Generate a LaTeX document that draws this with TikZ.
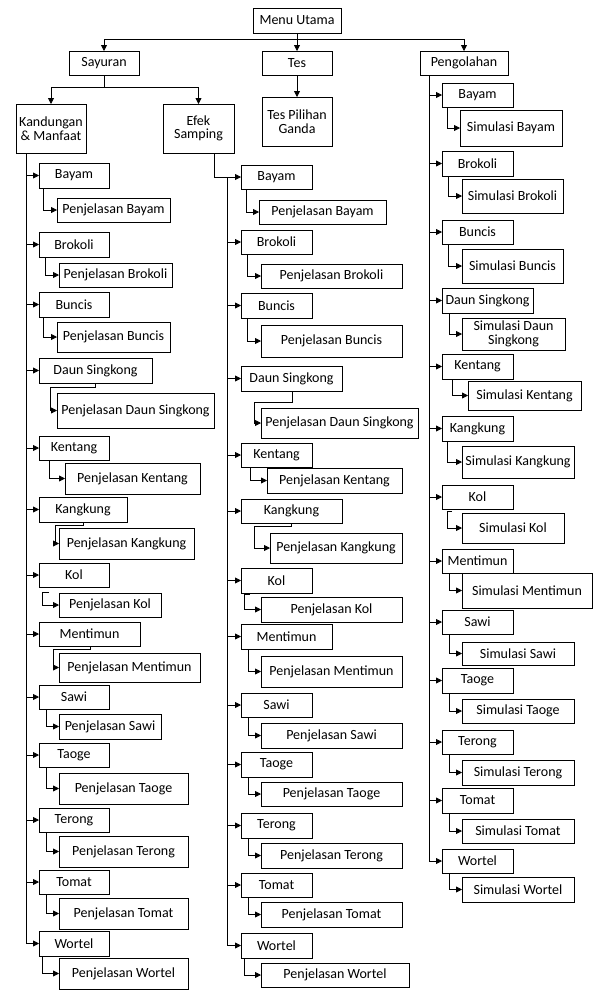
\documentclass[tikz,border=0pt]{standalone}
\usepackage{fontspec}
\setmainfont{Carlito}
\usetikzlibrary{arrows.meta}
\tikzset{
  box/.style={draw,line width=0.8pt,inner sep=1pt,outer sep=0pt,align=center,
    font=\fontsize{14}{13.5}\selectfont},
  arr/.style={line width=0.8pt,-{Triangle[length=6pt,width=6pt]}},
  ln/.style={line width=0.8pt}
}
\newcommand\bx[6]{\node[box,minimum width={#4pt-#2pt},minimum height={#5pt-#3pt}] (#1) at ({(#2+#4)/2},{-(#3+#5)/2}) {#6};}
\newcommand\elb[3]{\draw[arr] ([xshift=#3pt]#1.south west) |- (#2.west);}
\newcommand\tr[2]{\draw[arr] (#2.west -| #1) -- (#2.west);}
\newcommand\zel[5]{\draw[arr] ([xshift=#3pt]#1.south west) -- ++(0,-#4) -- ++(-#5,0) |- (#2.west);}
\newcommand\fel[5]{\draw[arr] ([xshift=#3pt,yshift=-#4pt]#1.south west) -- ++(-#5,0) |- (#2.west);}
\begin{document}
\begin{tikzpicture}[x=1pt,y=1pt]
\useasboundingbox (0,0) rectangle (597,-994);
% top
\bx{mu}{253}{8}{341}{33}{Menu Utama}
\bx{say}{69}{51}{139}{75}{Sayuran}
\bx{tes}{262}{51}{332}{75}{Tes}
\bx{peng}{420}{51}{508}{75}{Pengolahan}
\bx{kand}{16}{104}{86}{153}{Kandungan\\\& Manfaat}
\bx{efek}{163}{104}{234}{153}{Efek\\Samping}
\bx{tpg}{262}{97}{332}{146}{Tes Pilihan\\Ganda}
\draw[ln] (mu.south) -- ++(0,-6) coordinate (hb);
\draw[ln] (hb -| say.north) -- (hb -| peng.north);
\draw[arr] (hb -| say.north) -- (say.north);
\draw[arr] (hb) -- (tes.north);
\draw[arr] (hb -| peng.north) -- (peng.north);
\draw[ln] (say.south) -- ++(0,-12) coordinate (sb);
\draw[ln] (sb -| kand.north) -- (sb -| efek.north);
\draw[arr] (sb -| kand.north) -- (kand.north);
\draw[arr] (sb -| efek.north) -- (efek.north);
\draw[arr] (tes.south) -- (tpg.north);
% column 1
\bx{a1}{39}{163}{109}{188}{Bayam}
\bx{ap1}{57}{198}{170}{222}{Penjelasan Bayam}
\bx{a2}{39}{232}{109}{257}{Brokoli}
\bx{ap2}{59}{263}{172}{287}{Penjelasan Brokoli}
\bx{a3}{39}{292}{109}{317}{Buncis}
\bx{ap3}{57}{322}{170}{352}{Penjelasan Buncis}
\bx{a4}{39}{358}{152}{383}{Daun Singkong}
\bx{ap4}{57}{393}{214}{428}{Penjelasan Daun Singkong}
\bx{a5}{39}{436}{109}{460}{Kentang}
\bx{ap5}{65}{463}{200}{494}{Penjelasan Kentang}
\bx{a6}{39}{497}{127}{522}{Kangkung}
\bx{ap6}{59}{528}{194}{559}{Penjelasan Kangkung}
\bx{a7}{39}{563}{109}{587}{Kol}
\bx{ap7}{59}{593}{161}{617}{Penjelasan Kol}
\bx{a8}{39}{622}{140}{646}{Mentimun}
\bx{ap8}{59}{653}{200}{682}{Penjelasan Mentimun}
\bx{a9}{39}{685}{109}{709}{Sawi}
\bx{ap9}{59}{714}{161}{739}{Penjelasan Sawi}
\bx{a10}{39}{743}{109}{767}{Taoge}
\bx{ap10}{59}{773}{188}{804}{Penjelasan Taoge}
\bx{a11}{39}{808}{109}{832}{Terong}
\bx{ap11}{59}{836}{188}{867}{Penjelasan Terong}
\bx{a12}{39}{870}{109}{894}{Tomat}
\bx{ap12}{59}{898}{188}{929}{Penjelasan Tomat}
\bx{a13}{39}{931}{109}{956}{Wortel}
\bx{ap13}{59}{958}{188}{989}{Penjelasan Wortel}
\draw[ln] ([xshift=10pt]kand.south west) coordinate (t1) -- (t1 |- a13.west);
\foreach \i in {1,...,13}{\tr{t1}{a\i}}
\elb{a1}{ap1}{4}\elb{a2}{ap2}{6}\elb{a3}{ap3}{4}
\zel{a4}{ap4}{56}{4}{45}
\elb{a5}{ap5}{10}
\zel{a6}{ap6}{44}{3}{28}
\fel{a7}{ap7}{10}{5}{7}
\zel{a8}{ap8}{51}{3}{37}
\elb{a9}{ap9}{7}\elb{a10}{ap10}{7}\elb{a11}{ap11}{7}\elb{a12}{ap12}{7}\elb{a13}{ap13}{3}
% column 2
\bx{b1}{241}{165}{312}{189}{Bayam}
\bx{bp1}{259}{200}{386}{224}{Penjelasan Bayam}
\bx{b2}{241}{230}{312}{254}{Brokoli}
\bx{bp2}{261}{264}{402}{288}{Penjelasan Brokoli}
\bx{b3}{241}{293}{312}{318}{Buncis}
\bx{bp3}{261}{325}{402}{357}{Penjelasan Buncis}
\bx{b4}{241}{366}{342}{391}{Daun Singkong}
\bx{bp4}{261}{408}{418}{438}{Penjelasan Daun Singkong}
\bx{b5}{241}{443}{312}{467}{Kentang}
\bx{bp5}{267}{468}{402}{493}{Penjelasan Kentang}
\bx{b6}{241}{499}{342}{523}{Kangkung}
\bx{bp6}{270}{533}{402}{563}{Penjelasan Kangkung}
\bx{b7}{241}{568}{312}{593}{Kol}
\bx{bp7}{261}{597}{402}{622}{Penjelasan Kol}
\bx{b8}{241}{624}{332}{649}{Mentimun}
\bx{bp8}{261}{656}{402}{687}{Penjelasan Mentimun}
\bx{b9}{241}{693}{312}{717}{Sawi}
\bx{bp9}{261}{723}{402}{748}{Penjelasan Sawi}
\bx{b10}{241}{752}{312}{777}{Taoge}
\bx{bp10}{261}{782}{402}{806}{Penjelasan Taoge}
\bx{b11}{241}{813}{312}{838}{Terong}
\bx{bp11}{261}{843}{402}{868}{Penjelasan Terong}
\bx{b12}{241}{873}{312}{897}{Tomat}
\bx{bp12}{261}{902}{402}{927}{Penjelasan Tomat}
\bx{b13}{241}{933}{312}{958}{Wortel}
\bx{bp13}{261}{963}{409}{987}{Penjelasan Wortel}
\draw[arr] ([xshift=51pt]efek.south west) |- (b1.west);
\coordinate (t2) at (227,-100);
\draw[ln] (t2 |- b1.west) -- (t2 |- b13.west);
\foreach \i in {2,...,13}{\tr{t2}{b\i}}
\elb{b1}{bp1}{5}\elb{b2}{bp2}{6}\elb{b3}{bp3}{6}
\zel{b4}{bp4}{51}{11}{38}
\elb{b5}{bp5}{9}
\zel{b6}{bp6}{50}{3}{37}
\fel{b7}{bp7}{9}{1}{6}
\elb{b8}{bp8}{7}\elb{b9}{bp9}{7}\elb{b10}{bp10}{7}\elb{b11}{bp11}{7}\elb{b12}{bp12}{7}\elb{b13}{bp13}{3}
% column 3
\bx{c1}{442}{83}{513}{107}{Bayam}
\bx{cp1}{460}{110}{562}{146}{Simulasi Bayam}
\bx{c2}{442}{151}{513}{176}{Brokoli}
\bx{cp2}{462}{179}{563}{213}{Simulasi Brokoli}
\bx{c3}{442}{220}{513}{244}{Buncis}
\bx{cp3}{462}{249}{563}{283}{Simulasi Buncis}
\bx{c4}{442}{288}{533}{313}{Daun Singkong}
\bx{cp4}{462}{318}{565}{350}{Simulasi Daun\\Singkong}
\bx{c5}{442}{354}{513}{379}{Kentang}
\bx{cp5}{468}{381}{581}{410}{Simulasi Kentang}
\bx{c6}{442}{416}{513}{441}{Kangkung}
\bx{cp6}{462}{446}{574}{478}{Simulasi Kangkung}
\bx{c7}{442}{485}{513}{509}{Kol}
\bx{cp7}{462}{513}{564}{543}{Simulasi Kol}
\bx{c8}{442}{549}{513}{573}{Mentimun}
\bx{cp8}{462}{573}{592}{608}{Simulasi Mentimun}
\bx{c9}{442}{610}{513}{634}{Sawi}
\bx{cp9}{462}{642}{574}{665}{Simulasi Sawi}
\bx{c10}{442}{668}{513}{693}{Taoge}
\bx{cp10}{462}{699}{574}{723}{Simulasi Taoge}
\bx{c11}{442}{730}{513}{754}{Terong}
\bx{cp11}{462}{760}{574}{785}{Simulasi Terong}
\bx{c12}{442}{788}{513}{813}{Tomat}
\bx{cp12}{462}{819}{574}{843}{Simulasi Tomat}
\bx{c13}{442}{849}{513}{873}{Wortel}
\bx{cp13}{462}{877}{574}{902}{Simulasi Wortel}
\draw[ln] ([xshift=9pt]peng.south west) coordinate (t3) -- (t3 |- c13.west);
\foreach \i in {1,...,13}{\tr{t3}{c\i}}
\elb{c1}{cp1}{5}\elb{c2}{cp2}{6}\elb{c3}{cp3}{6}\elb{c4}{cp4}{7}\elb{c5}{cp5}{10}\elb{c6}{cp6}{5}
\fel{c7}{cp7}{10}{2}{5}
\elb{c8}{cp8}{7}\elb{c9}{cp9}{7}\elb{c10}{cp10}{7}\elb{c11}{cp11}{7}\elb{c12}{cp12}{7}\elb{c13}{cp13}{7}
\end{tikzpicture}
\end{document}
